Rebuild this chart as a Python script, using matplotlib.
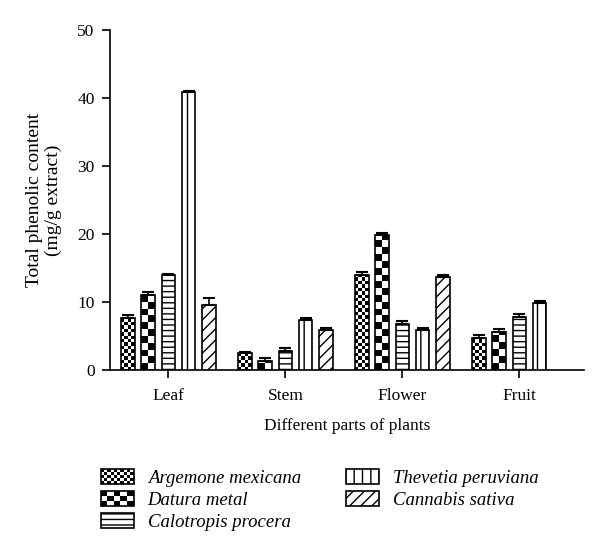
import numpy as np
import matplotlib
matplotlib.use("Agg")
import matplotlib.pyplot as plt
from matplotlib.patches import Rectangle, Patch
from matplotlib.legend_handler import HandlerBase

parts = ["Leaf", "Stem", "Flower", "Fruit"]
species = ["Argemone mexicana", "Datura metal", "Calotropis procera",
           "Thevetia peruviana", "Cannabis sativa"]

argemone = [7.7, 2.5, 14.0, 4.7]
datura = [11.0, 1.3, 19.8, 5.5]
calotropis = [13.9, 2.8, 6.8, 7.8]
thevetia = [40.9, 7.3, 5.8, 9.9]
cannabis = [9.6, 5.8, 13.6, np.nan]

argemone_err = [0.4, 0.1, 0.4, 0.5]
datura_err = [0.4, 0.4, 0.3, 0.5]
calotropis_err = [0.2, 0.4, 0.4, 0.4]
thevetia_err = [0.1, 0.3, 0.3, 0.2]
cannabis_err = [0.9, 0.3, 0.3, np.nan]

plt.rcParams["font.family"] = ["Liberation Serif", "DejaVu Serif"]
plt.rcParams["hatch.linewidth"] = 1.0

FS = 12.5
YLAB_FS = 14
LEG_FS = 13.5


class CheckerHandler(HandlerBase):
    def __init__(self, nx, ny):
        super().__init__()
        self.nx, self.ny = nx, ny

    def create_artists(self, legend, orig_handle, xdescent, ydescent,
                       width, height, fontsize, trans):
        x0, y0 = -xdescent, -ydescent
        arts = [Rectangle((x0, y0), width, height, fc="white", ec="none",
                          transform=trans)]
        cw, ch = width / self.nx, height / self.ny
        for i in range(self.nx):
            for j in range(self.ny):
                if (i + j) % 2 == 0:
                    arts.append(Rectangle((x0 + i * cw, y0 + j * ch), cw, ch,
                                          fc="black", ec="none", transform=trans))
        arts.append(Rectangle((x0, y0), width, height, fc="none", ec="black",
                              lw=1.2, transform=trans))
        return arts


def checker_fill(ax, bar, ncols, cell_h):
    x0 = bar.get_x()
    w = bar.get_width()
    h = bar.get_height()
    if not np.isfinite(h) or h <= 0:
        return
    nrows = int(np.ceil(h / cell_h)) + 1
    img = (np.add.outer(np.arange(nrows), np.arange(ncols)) % 2).astype(float)
    im = ax.imshow(img, cmap="gray", vmin=0, vmax=1, origin="lower",
                   extent=(x0, x0 + w, 0, nrows * cell_h), aspect="auto",
                   interpolation="nearest", zorder=2)
    im.set_clip_path(bar)


def main() -> None:
    fig = plt.figure(figsize=(6.0, 5.57), dpi=100, facecolor="white")
    ax = fig.add_axes([0.183, 0.336, 0.79, 0.61])

    series = [argemone, datura, calotropis, thevetia, cannabis]
    errs = [argemone_err, datura_err, calotropis_err, thevetia_err, cannabis_err]
    hatches = [None, None, "---", "||", "///"]

    x = np.arange(len(parts))
    step = 0.173
    width = 0.115

    for k, (vals, err, hatch) in enumerate(zip(series, errs, hatches)):
        pos = x + (k - 2) * step
        vals = np.array(vals, dtype=float)
        err = np.array(err, dtype=float)
        bars = ax.bar(pos, vals, width=width, color="white", edgecolor="black",
                      linewidth=1.2, hatch=hatch, zorder=3 if hatch else 1)
        if k == 0:
            for b in bars:
                checker_fill(ax, b, 4, 0.5)
        elif k == 1:
            for b in bars:
                checker_fill(ax, b, 2, 1.0)
        if k < 2:
            for b in bars:
                b.set_facecolor("none")
                b.set_zorder(3)
        ax.errorbar(pos, vals, yerr=[np.zeros_like(err), err], fmt="none",
                    ecolor="black", elinewidth=1.2, capsize=4, capthick=1.5,
                    zorder=4)

    ax.set_xlim(-0.5, 3.55)
    ax.set_ylim(0, 50)
    ax.set_yticks([0, 10, 20, 30, 40, 50])
    ax.set_xticks(x)
    ax.set_xticklabels(parts)

    for side in ("top", "right"):
        ax.spines[side].set_visible(False)
    for side in ("left", "bottom"):
        ax.spines[side].set_linewidth(1.2)
    ax.tick_params(axis="both", labelsize=FS, width=1.2, length=6, direction="out")
    ax.tick_params(axis="x", pad=7)
    ax.tick_params(axis="y", pad=5)

    ax.set_ylabel("Total phenolic content\n(mg/g extract)", fontsize=YLAB_FS,
                  labelpad=11, linespacing=1.1)
    ax.set_xlabel("Different parts of plants", fontsize=FS, labelpad=10)

    handles = [
        Patch(fc="white", ec="black"),
        Patch(fc="white", ec="black"),
        Patch(fc="white", ec="black", hatch="---"),
        Patch(fc="white", ec="black", hatch="||"),
        Patch(fc="white", ec="black", hatch="///"),
    ]
    hmap = {handles[0]: CheckerHandler(10, 5), handles[1]: CheckerHandler(5, 3)}
    leg = fig.legend(handles, species, loc="upper left",
                     bbox_to_anchor=(0.168, 0.158), ncol=2, frameon=False,
                     handler_map=hmap, handlelength=1.75, handleheight=0.85,
                     handletextpad=0.75, columnspacing=2.4, labelspacing=0.22,
                     borderpad=0, borderaxespad=0,
                     prop={"size": LEG_FS, "style": "italic"})
    for p in leg.get_patches():
        p.set_linewidth(1.2)

    fig.savefig("out.png", dpi=100, facecolor="white")


if __name__ == "__main__":
    main()
